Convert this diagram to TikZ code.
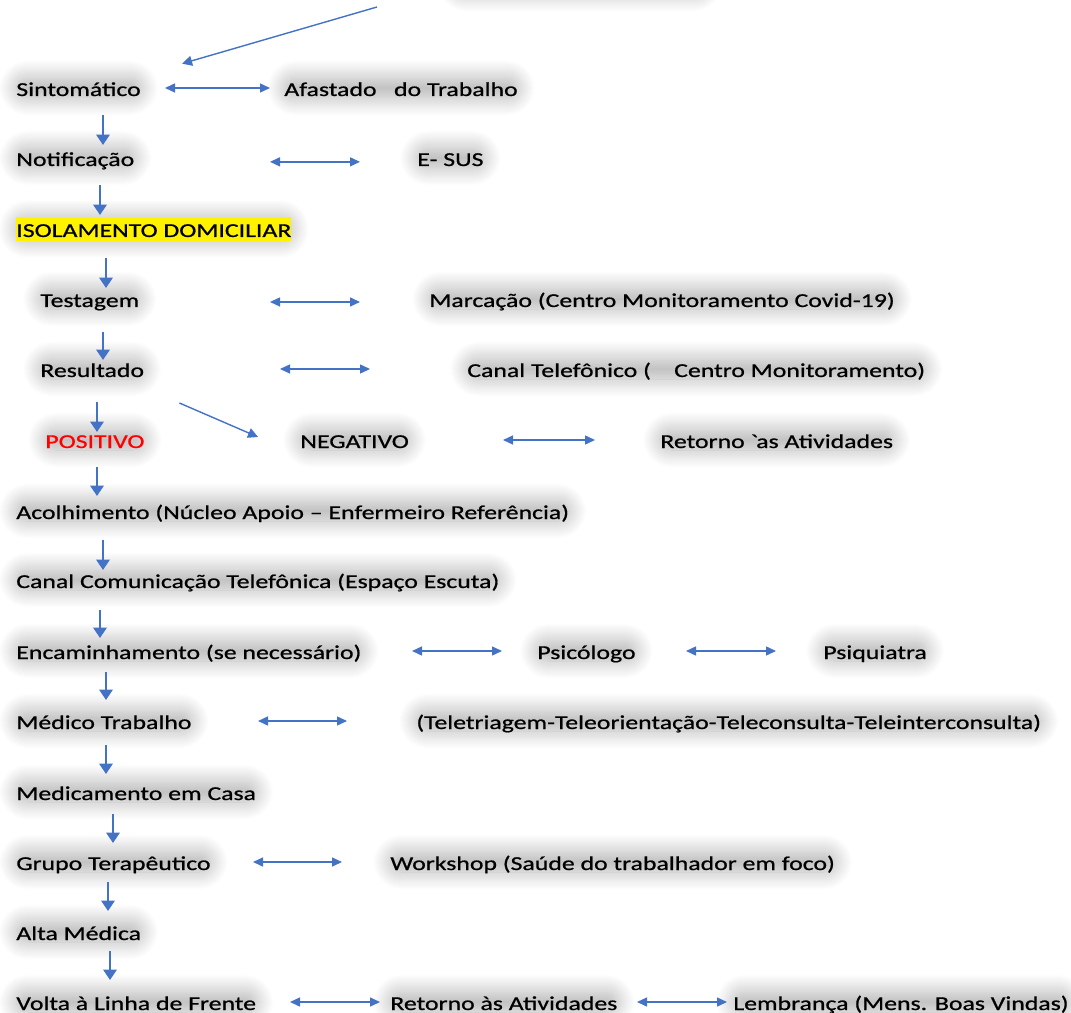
\documentclass[tikz,border=0pt]{standalone}
\usepackage{fontspec}
\setmainfont{Carlito}[FakeStretch=1.31,FakeBold=0.8]
\usetikzlibrary{arrows.meta,shadows.blur}
\definecolor{arrowblue}{RGB}{68,114,196}

\begin{document}
\begin{tikzpicture}[x=0.02cm,y=-0.02cm,
  glow/.style={blur shadow={shadow xshift=0pt,shadow yshift=0pt,shadow blur radius=10pt,shadow blur steps=20,shadow blur extra rounding=6pt,shadow opacity=30,shadow scale=1}},
  lbl/.style={anchor=west,inner sep=0pt,text height=0.36cm,text depth=0.04cm,font=\fontsize{11.2}{13}\selectfont,glow},
  arr/.style={draw=arrowblue,line width=0.8pt},
  flow/.style={arr,line width=1.3pt,-{Triangle[length=2.1mm,width=2.7mm]}},
  link/.style={arr,{Triangle[length=2mm,width=1.8mm]}-{Triangle[length=2mm,width=1.8mm]}},
  lead/.style={arr,-{Triangle[length=2mm,width=2mm]}},
  gap/.style 2 args={shorten <=#1*0.2mm,shorten >=#2*0.2mm}]
\useasboundingbox (0,0) rectangle (1071,1013);

% shadow of the line cut off above
\path[glow] (455,-25) rectangle (705,-6);

% main column
\node[lbl] (sint) at (16,88) {Sintomático};
\node[lbl] (notif) at (16,158) {Notificação};
\node[lbl,fill=yellow,inner ysep=1pt] (isol) at (16,229) {ISOLAMENTO DOMICILIAR};
\node[lbl] (test) at (40,299) {Testagem};
\node[lbl] (res) at (40,369) {Resultado};
\node[lbl,text=red] (pos) at (45,440) {POSITIVO};
\node[lbl] (acol) at (16,511) {Acolhimento (Núcleo Apoio – Enfermeiro Referência)};
\node[lbl] (ccom) at (16,580) {Canal Comunicação Telefônica (Espaço Escuta)};
\node[lbl] (enc) at (16,651) {Encaminhamento (se necessário)};
\node[lbl] (med) at (16,721) {Médico Trabalho};
\node[lbl] (medc) at (16,792) {Medicamento em Casa};
\node[lbl] (grupo) at (16,862) {Grupo Terapêutico};
\node[lbl] (alta) at (16,932) {Alta Médica};
\node[lbl] (volta) at (16,1002) {Volta à Linha de Frente};

% side texts
\node[lbl] (afast) at (284,88) {Afastado~~~do Trabalho};
\node[lbl] (esus) at (417,158) {E- SUS};
\node[lbl] (marc) at (429,299) {Marcação (Centro Monitoramento Covid-19)};
\node[lbl] (canal) at (467,369) {Canal Telefônico (~~~~Centro Monitoramento)};
\node[lbl] (neg) at (300,440) {NEGATIVO};
\node[lbl] (ret) at (660,440) {Retorno \textasciigrave as Atividades};
\node[lbl] (psic) at (537,651) {Psicólogo};
\node[lbl] (psiq) at (823,651) {Psiquiatra};
\node[lbl] (tele) at (416,721) {(Teletriagem-Teleorientação-Teleconsulta-Teleinterconsulta)};
\node[lbl] (work) at (390,862) {Workshop (Saúde do trabalhador em foco)};
\node[lbl] (retat) at (390,1002) {Retorno às Atividades};
\node[lbl] (lemb) at (733,1002) {Lembrança (Mens. Boas Vindas)};

% arrows down the column
\draw[flow,gap={27}{13}] (103,0 |- sint) -- (103,0 |- notif);
\draw[flow,gap={27}{14}] (100,0 |- notif) -- (100,0 |- isol);
\draw[flow,gap={29}{11}] (106,0 |- isol) -- (106,0 |- test);
\draw[flow,gap={33}{9}] (103,0 |- test) -- (103,0 |- res);
\draw[flow,gap={33}{8}] (97,0 |- res) -- (97,0 |- pos);
\draw[flow,gap={27}{15}] (97,0 |- pos) -- (97,0 |- acol);
\draw[flow,gap={29}{10}] (103,0 |- acol) -- (103,0 |- ccom);
\draw[flow,gap={30}{13}] (100,0 |- ccom) -- (100,0 |- enc);
\draw[flow,gap={21}{21}] (106,0 |- enc) -- (106,0 |- med);
\draw[flow,gap={24}{18}] (106,0 |- med) -- (106,0 |- medc);
\draw[flow,gap={22}{19}] (113,0 |- medc) -- (113,0 |- grupo);
\draw[flow,gap={20}{21}] (108,0 |- grupo) -- (108,0 |- alta);
\draw[flow,gap={19}{22}] (110,0 |- alta) -- (110,0 |- volta);

% two-way links
\draw[link] (165,0 |- sint) -- (270,0 |- afast);
\draw[link] ([yshift=-2.2pt]270,0 |- notif) -- ([yshift=-2.2pt]360,0 |- esus);
\draw[link] ([yshift=-1.7pt]270,0 |- test) -- ([yshift=-1.7pt]360,0 |- marc);
\draw[link] (280,0 |- res) -- (370,0 |- canal);
\draw[link] (503,0 |- neg) -- (595,0 |- ret);
\draw[link] (412,0 |- enc) -- (502,0 |- psic);
\draw[link] (686,0 |- psic) -- (776,0 |- psiq);
\draw[link] (258,0 |- med) -- (347,0 |- tele);
\draw[link] (253,0 |- grupo) -- (342,0 |- work);
\draw[link] (290,0 |- volta) -- (380,0 |- retat);
\draw[link] (637,0 |- retat) -- (727,0 |- lemb);

% slanted arrows
\coordinate (src) at (377,7);
\draw[lead] (src) -- ([shift={(41,-14)}]sint.north east);
\draw[lead] ([shift={(35,34)}]res.east) -- ([shift={(-42,-3)}]neg.west);
\end{tikzpicture}
\end{document}
